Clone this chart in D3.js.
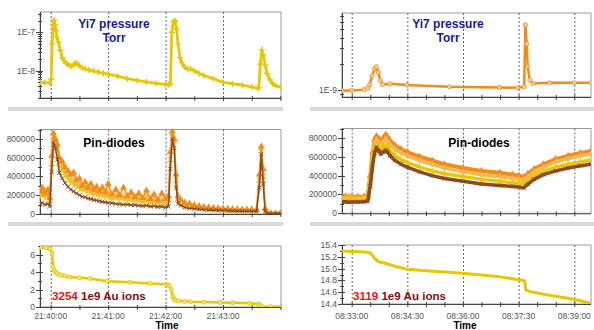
<!DOCTYPE html>
<html lang="en">
<head>
<meta charset="utf-8">
<title>Yi7 pressure / Pin-diodes / Au ions</title>
<script src="https://cdn.jsdelivr.net/npm/d3@7"></script>
<style>
  body { margin: 0; background: #fff; }
  svg { font-family: "Liberation Sans", Arial, sans-serif; }
  .frame { fill: none; stroke: #9a9a9a; }
  .axisline { stroke: #444; }
  .grid { stroke: #666; stroke-dasharray: 2,2; }
  .tick { stroke: #444; }
  .tlabel { font-size: 8.5px; fill: #555; }
  .sep { fill: #d9d9d9; }
</style>
</head>
<body>
<script>
// ---- time axes ----
var leftTicks = ["21:40:00", "21:41:00", "21:42:00", "21:43:00"];
var rightTicks = ["08:33:00", "08:34:30", "08:36:00", "08:37:30", "08:39:00"];
// seconds relative to first tick label
var leftRange = [-11.2, 240.6];
var rightRange = [-15.7, 387];

// ---- y tick values ----
var pinTicks = [0, 200000, 400000, 600000, 800000];
var ionTicksL = [0, 2, 4, 6];
var ionTicksR = [14.4, 14.6, 14.8, 15.0, 15.2, 15.4];

// ---- left run : Yi7 pressure (Torr) ----
var pL_t = [-11, -6, -1, 0.5, 1.5, 2.5, 3.5, 4.5, 5.5, 6.5, 8, 10, 12, 14, 16, 18, 20, 22, 24, 26, 28, 30, 33, 36, 40, 45, 50, 55, 60, 70, 80, 90, 100, 110, 120, 123, 125, 126.5, 128, 130, 131.5, 133, 135, 137, 140, 143, 146, 150, 155, 160, 170, 180, 190, 200, 210, 216, 217.5, 219, 220.5, 222, 224, 226, 229, 232, 235, 240.5];
var pL_v = [5.0e-9, 4.9e-9, 4.8e-9, 6e-9, 5.0e-8, 1.6e-7, 2.1e-7, 1.6e-7, 1.1e-7, 7.5e-8, 5.6e-8, 3.4e-8, 2.2e-8, 1.8e-8, 1.6e-8, 1.45e-8, 1.35e-8, 1.3e-8, 1.45e-8, 1.6e-8, 1.5e-8, 1.35e-8, 1.2e-8, 1.12e-8, 1.05e-8, 9.8e-9, 9.2e-9, 8.6e-9, 8.2e-9, 7.2e-9, 6.2e-9, 5.6e-9, 5.1e-9, 4.7e-9, 4.4e-9, 4.3e-9, 4.5e-9, 1.0e-7, 1.9e-7, 2.0e-7, 1.2e-7, 5.0e-8, 2.2e-8, 1.6e-8, 1.25e-8, 1.1e-8, 1.12e-8, 1.0e-8, 8.5e-9, 7.5e-9, 6.2e-9, 5.0e-9, 4.6e-9, 4.2e-9, 3.8e-9, 3.5e-9, 3.6e-9, 1.5e-8, 3.5e-8, 2.6e-8, 1.4e-8, 8.5e-9, 5.8e-9, 4.6e-9, 4.1e-9, 3.7e-9];

// ---- left run : pin-diodes ----
var dL_t = [-11, -9, -6, -3, -1, 1, 3, 5, 7, 9, 12, 15, 18, 21, 24, 27, 30, 33, 36, 39, 42, 45, 48, 51, 54, 57, 60, 64, 68, 72, 76, 80, 84, 88, 92, 96, 100, 104, 108, 112, 116, 120, 123, 125, 127, 129, 131, 133, 136, 140, 145, 150, 155, 160, 165, 170, 175, 180, 185, 190, 195, 200, 205, 210, 215, 218, 220, 222, 224, 226, 230, 235, 240];
var dL_orange = [240000, 280000, 220000, 260000, 170000, 620000, 860000, 800000, 740000, 600000, 560000, 500000, 460000, 420000, 440000, 360000, 380000, 300000, 340000, 280000, 320000, 260000, 290000, 240000, 280000, 230000, 320000, 210000, 260000, 200000, 280000, 190000, 230000, 180000, 220000, 170000, 250000, 160000, 210000, 150000, 220000, 160000, 190000, 660000, 880000, 800000, 420000, 190000, 150000, 120000, 110000, 95000, 85000, 75000, 70000, 65000, 60000, 58000, 55000, 52000, 50000, 48000, 46000, 48000, 44000, 420000, 720000, 480000, 60000, 10000, 8000, 8000, 8000];
var dL_tan = [210000, 230000, 250000, 200000, 150000, 560000, 820000, 780000, 700000, 560000, 520000, 450000, 430000, 380000, 360000, 330000, 310000, 280000, 290000, 250000, 260000, 230000, 240000, 210000, 220000, 200000, 230000, 180000, 200000, 170000, 190000, 160000, 180000, 150000, 170000, 140000, 180000, 130000, 160000, 120000, 150000, 120000, 150000, 600000, 860000, 780000, 380000, 160000, 130000, 100000, 90000, 80000, 70000, 65000, 60000, 55000, 50000, 48000, 45000, 42000, 40000, 40000, 38000, 40000, 36000, 380000, 700000, 420000, 50000, 8000, 6000, 6000, 6000];
var dL_yellow = [190000, 200000, 180000, 210000, 140000, 520000, 800000, 760000, 660000, 520000, 470000, 420000, 380000, 340000, 320000, 300000, 280000, 250000, 260000, 230000, 230000, 210000, 215000, 190000, 200000, 180000, 190000, 160000, 175000, 150000, 165000, 145000, 155000, 135000, 150000, 125000, 150000, 115000, 135000, 110000, 125000, 105000, 130000, 560000, 840000, 760000, 340000, 140000, 115000, 90000, 80000, 70000, 62000, 58000, 52000, 48000, 45000, 42000, 40000, 38000, 36000, 35000, 34000, 35000, 32000, 340000, 680000, 380000, 40000, 6000, 5000, 5000, 5000];
var dL_brown = [110000, 120000, 100000, 110000, 80000, 450000, 760000, 700000, 580000, 440000, 380000, 330000, 290000, 260000, 240000, 220000, 200000, 185000, 180000, 165000, 160000, 150000, 145000, 135000, 130000, 125000, 120000, 115000, 110000, 105000, 100000, 100000, 95000, 95000, 90000, 85000, 90000, 80000, 85000, 75000, 80000, 70000, 80000, 480000, 800000, 700000, 280000, 110000, 90000, 70000, 60000, 55000, 50000, 45000, 42000, 40000, 38000, 36000, 34000, 32000, 30000, 30000, 28000, 28000, 26000, 280000, 640000, 320000, 30000, 5000, 4000, 4000, 4000];

// ---- left run : Au ions (1e9) ----
var iL_t = [-11, -5, -0.7, 1.4, 2.4, 3.4, 5, 6.6, 9, 11.8, 15, 20, 30, 41, 59, 83, 104, 122, 124, 126, 127.7, 129, 130, 133, 140, 145.6, 160, 177, 190, 208, 217, 219, 221, 230, 240.6];
var iL_v = [6.85, 6.78, 6.68, 6.15, 4.6, 4.2, 4.0, 3.84, 3.72, 3.64, 3.56, 3.45, 3.35, 3.26, 2.96, 2.85, 2.7, 2.58, 2.45, 2.0, 1.17, 0.9, 0.8, 0.72, 0.65, 0.6, 0.56, 0.53, 0.48, 0.42, 0.34, 0.2, 0.04, 0.03, 0.02];

// ---- right run : Yi7 pressure ----
var pR_t = [-15.7, 0, 20, 26, 29, 33, 37, 40, 43, 46, 50, 62, 89, 158, 239, 268, 279, 280.8, 283, 284.6, 288, 293, 320, 360, 387];
var pR_v = [0.98e-9, 0.99e-9, 1.01e-9, 1.05e-9, 1.15e-9, 1.45e-9, 1.75e-9, 1.85e-9, 1.6e-9, 1.3e-9, 1.16e-9, 1.18e-9, 1.14e-9, 1.09e-9, 1.07e-9, 1.06e-9, 1.09e-9, 5.6e-9, 3.4e-9, 1.85e-9, 1.3e-9, 1.19e-9, 1.21e-9, 1.21e-9, 1.21e-9];

// ---- right run : pin-diodes ----
var dR_t = [-15.7, -10, -5, 0, 10, 20, 26, 30, 34, 37, 40, 44, 47, 51, 55, 58, 62, 70, 80, 90, 110, 130, 150, 180, 210, 240, 260, 270, 278, 285, 295, 310, 330, 350, 370, 387];
var dR_orange = [175000, 178000, 172000, 176000, 175000, 178000, 190000, 400000, 650000, 780000, 820000, 790000, 760000, 800000, 835000, 810000, 770000, 720000, 680000, 650000, 600000, 560000, 520000, 480000, 450000, 430000, 410000, 400000, 385000, 420000, 470000, 520000, 575000, 610000, 640000, 660000];
var dR_tan = [160000, 162000, 158000, 160000, 160000, 162000, 175000, 370000, 610000, 740000, 780000, 750000, 720000, 760000, 790000, 770000, 730000, 680000, 640000, 610000, 560000, 520000, 480000, 440000, 410000, 390000, 370000, 360000, 350000, 390000, 440000, 490000, 545000, 580000, 610000, 630000];
var dR_yellow = [150000, 150000, 148000, 150000, 150000, 152000, 160000, 330000, 560000, 690000, 730000, 700000, 670000, 700000, 720000, 700000, 660000, 610000, 570000, 540000, 490000, 450000, 420000, 390000, 360000, 340000, 325000, 320000, 310000, 350000, 400000, 445000, 490000, 520000, 545000, 570000];
var dR_brown = [120000, 122000, 118000, 120000, 120000, 122000, 130000, 290000, 520000, 640000, 700000, 660000, 630000, 650000, 670000, 650000, 610000, 560000, 520000, 490000, 440000, 400000, 370000, 340000, 310000, 295000, 285000, 278000, 270000, 310000, 360000, 410000, 450000, 480000, 505000, 520000];

// ---- right run : Au ions ----
var iR_t = [-15.7, 0, 21.5, 29.6, 33, 37.6, 42.5, 53.8, 70, 89.4, 126.5, 179, 239.6, 270.3, 278, 280, 281.6, 288, 320, 359, 387];
var iR_v = [15.30, 15.29, 15.28, 15.27, 15.23, 15.17, 15.12, 15.09, 15.04, 14.99, 14.96, 14.92, 14.86, 14.81, 14.80, 14.78, 14.64, 14.61, 14.55, 14.48, 14.41];

var YELLOW = "#e6c700", ORANGE = "#f08c1a", TAN = "#f6b84e", BROWN = "#8c4a1e";

var svg = d3.select("body").append("svg").attr("width", 594).attr("height", 330);
var parseT = d3.utcParse("%H:%M:%S");
var clipId = 0;

function sec(base, s) { return new Date(base.getTime() + s * 1000); }

function panel(p) {
  var base = parseT(p.labels[0]);
  var g = svg.append("g");
  var x = d3.scaleUtc().domain([sec(base, p.xr[0]), sec(base, p.xr[1])]).range([p.x0, p.x1]);
  var y = (p.log ? d3.scaleLog() : d3.scaleLinear()).domain(p.yd).range([p.y1, p.y0]);
  var majors = p.labels.map(parseT);
  var minors = d3.utcSecond.every(30).range(x.domain()[0], x.domain()[1]);

  g.append("rect").attr("class", "frame")
    .attr("x", p.x0).attr("y", p.y0).attr("width", p.x1 - p.x0).attr("height", p.y1 - p.y0);

  g.selectAll(".grid").data(majors).enter().append("line").attr("class", "grid")
    .attr("x1", function(d) { return x(d) + 0.5; }).attr("x2", function(d) { return x(d) + 0.5; })
    .attr("y1", p.y0).attr("y2", p.y1);

  // x axis
  g.append("line").attr("class", "axisline").attr("x1", p.x0).attr("x2", p.x1).attr("y1", p.y1 + 0.5).attr("y2", p.y1 + 0.5);
  g.selectAll(".xt").data(minors).enter().append("line").attr("class", "tick")
    .attr("x1", function(d) { return x(d) + 0.5; }).attr("x2", function(d) { return x(d) + 0.5; })
    .attr("y1", p.y1 - 2).attr("y2", p.y1 + 3);
  if (p.xlab) {
    g.selectAll(".xl").data(majors).enter().append("text").attr("class", "tlabel")
      .attr("x", function(d) { return x(d); }).attr("y", 319)
      .attr("text-anchor", "middle").text(d3.utcFormat("%H:%M:%S"));
    g.append("text").attr("x", p.timeX).attr("y", 328.5).attr("text-anchor", "middle")
      .attr("font-size", "10px").attr("font-weight", "bold").text("Time");
  }

  // y axis
  g.append("line").attr("class", "axisline").attr("x1", p.x0 + 0.5).attr("x2", p.x0 + 0.5).attr("y1", p.y0).attr("y2", p.y1);
  var ymin = p.log ? y.ticks() : p.yminor;
  g.selectAll(".ym").data(ymin).enter().append("line").attr("class", "tick")
    .attr("x1", p.x0 - 2).attr("x2", p.x0 + 2)
    .attr("y1", function(d) { return Math.round(y(d)) + 0.5; }).attr("y2", function(d) { return Math.round(y(d)) + 0.5; });
  g.selectAll(".yM").data(p.ymajor).enter().append("line").attr("class", "tick")
    .attr("x1", p.x0 - 4).attr("x2", p.x0 + 3)
    .attr("y1", function(d) { return Math.round(y(d)) + 0.5; }).attr("y2", function(d) { return Math.round(y(d)) + 0.5; });
  g.selectAll(".yl").data(p.ymajor).enter().append("text").attr("class", "tlabel")
    .attr("x", p.x0 - 5).attr("y", function(d) { return y(d) + 3; })
    .attr("text-anchor", "end").text(p.yfmt);

  clipId++;
  svg.append("clipPath").attr("id", "c" + clipId).append("rect")
    .attr("x", p.x0).attr("y", p.y0 - 1).attr("width", p.x1 - p.x0).attr("height", p.y1 - p.y0 + 1);
  var plot = svg.append("g").attr("clip-path", "url(#c" + clipId + ")");
  return { plot: plot, x: x, y: y, base: base };
}

function series(pn, ts, vs, color, opt) {
  var pts = ts.map(function(t, i) { return [pn.x(sec(pn.base, t)), pn.y(vs[i])]; });
  pn.plot.append("path").attr("d", d3.line()(pts)).attr("fill", "none")
    .attr("stroke", color).attr("stroke-width", opt.w).attr("stroke-linejoin", "round");
  if (!opt.mark) return;
  var m = pn.plot.selectAll(null).data(pts).enter().append("path")
    .attr("transform", function(d) { return "translate(" + d[0] + "," + d[1] + ")"; });
  if (opt.mark === "plus") m.attr("d", "M-3,0H3M0,-3V3").attr("stroke", color).attr("stroke-width", 1.4);
  if (opt.mark === "x") m.attr("d", "M-2,-2L2,2M-2,2L2,-2").attr("stroke", color).attr("stroke-width", 1);
  if (opt.mark === "circle") m.attr("d", d3.symbol(d3.symbolCircle, 14)()).attr("fill", opt.fill || "none").attr("stroke", color).attr("stroke-width", 0.8);
  if (opt.mark === "triangle") m.attr("d", d3.symbol(d3.symbolTriangle, 22)()).attr("fill", color);
  if (opt.mark === "diamond") m.attr("d", d3.symbol(d3.symbolDiamond, 16)()).attr("fill", color);
}

// separators
[[8, 107, 275], [8, 222, 275], [310, 107, 284], [310, 222, 284]].forEach(function(s) {
  svg.append("rect").attr("class", "sep").attr("x", s[0]).attr("y", s[1]).attr("width", s[2]).attr("height", 4);
});

var logFmt = function(d) { return "1E" + Math.round(Math.log10(d)); };

// ---------- left column ----------
var lt = panel({ labels: leftTicks, xr: leftRange, x0: 40, x1: 281, y0: 12, y1: 98, log: true, yd: [1.95e-9, 3.38e-7], ymajor: [1e-8, 1e-7], yfmt: logFmt });
series(lt, pL_t, pL_v, YELLOW, { w: 2.8, mark: "plus" });

var lm = panel({ labels: leftTicks, xr: leftRange, x0: 40, x1: 281, y0: 129.5, y1: 214, yd: [0, 900000], ymajor: pinTicks, yminor: d3.range(0, 900001, 100000), yfmt: d3.format("d") });
series(lm, dL_t, dL_yellow, YELLOW, { w: 1.5, mark: "plus" });
series(lm, dL_t, dL_tan, TAN, { w: 1.5, mark: "diamond" });
series(lm, dL_t, dL_orange, ORANGE, { w: 1.5, mark: "triangle" });
series(lm, dL_t, dL_brown, BROWN, { w: 1.5, mark: "x" });

var lb = panel({ labels: leftTicks, xr: leftRange, x0: 40, x1: 281, y0: 246, y1: 307, yd: [0, 7], ymajor: ionTicksL, yminor: d3.range(0, 8, 1), yfmt: d3.format("d"), xlab: true, timeX: 167 });
series(lb, iL_t, iL_v, YELLOW, { w: 2.5, mark: "circle", fill: "#f4e56a" });

// ---------- right column ----------
var rt = panel({ labels: rightTicks, xr: rightRange, x0: 342, x1: 591, y0: 13, y1: 97, log: true, yd: [8.31e-10, 7.67e-9], ymajor: [1e-9], yfmt: logFmt });
series(rt, pR_t, pR_v, ORANGE, { w: 2.5, mark: "circle", fill: "#fbd29a" });

var rm = panel({ labels: rightTicks, xr: rightRange, x0: 342, x1: 591, y0: 128.5, y1: 213.3, yd: [0, 900000], ymajor: pinTicks, yminor: d3.range(0, 900001, 100000), yfmt: d3.format("d") });
series(rm, dR_t, dR_orange, ORANGE, { w: 4, mark: "triangle" });
series(rm, dR_t, dR_tan, TAN, { w: 3.5, mark: "diamond" });
series(rm, dR_t, dR_yellow, YELLOW, { w: 3.5, mark: "plus" });
series(rm, dR_t, dR_brown, BROWN, { w: 3.5, mark: "x" });

var rb = panel({ labels: rightTicks, xr: rightRange, x0: 342, x1: 591, y0: 245, y1: 304, yd: [14.4, 15.4], ymajor: ionTicksR, yminor: d3.range(14.4, 15.41, 0.1), yfmt: d3.format(".1f"), xlab: true, timeX: 465 });
series(rb, iR_t, iR_v, YELLOW, { w: 3 });

// ---------- titles ----------
function title(x, y, s, color) {
  svg.append("text").attr("x", x).attr("y", y).attr("text-anchor", "middle")
    .attr("font-size", "12px").attr("font-weight", "bold").attr("fill", color).text(s);
}
title(114, 28, "Yi7 pressure", "#1a1a9a");
title(114, 42, "Torr", "#1a1a9a");
title(448, 28, "Yi7 pressure", "#1a1a9a");
title(448, 42, "Torr", "#1a1a9a");
title(114, 147, "Pin-diodes", "#000");
title(479, 147, "Pin-diodes", "#000");

function ions(x, n) {
  var t = svg.append("text").attr("x", x).attr("y", 300).attr("font-size", "11.6px").attr("font-weight", "bold");
  t.append("tspan").attr("fill", "#ee1111").text(n);
  t.append("tspan").attr("fill", "#8b0a0a").text(" 1e9 Au ions");
}
ions(52, "3254");
ions(353, "3119");
</script>
</body>
</html>
